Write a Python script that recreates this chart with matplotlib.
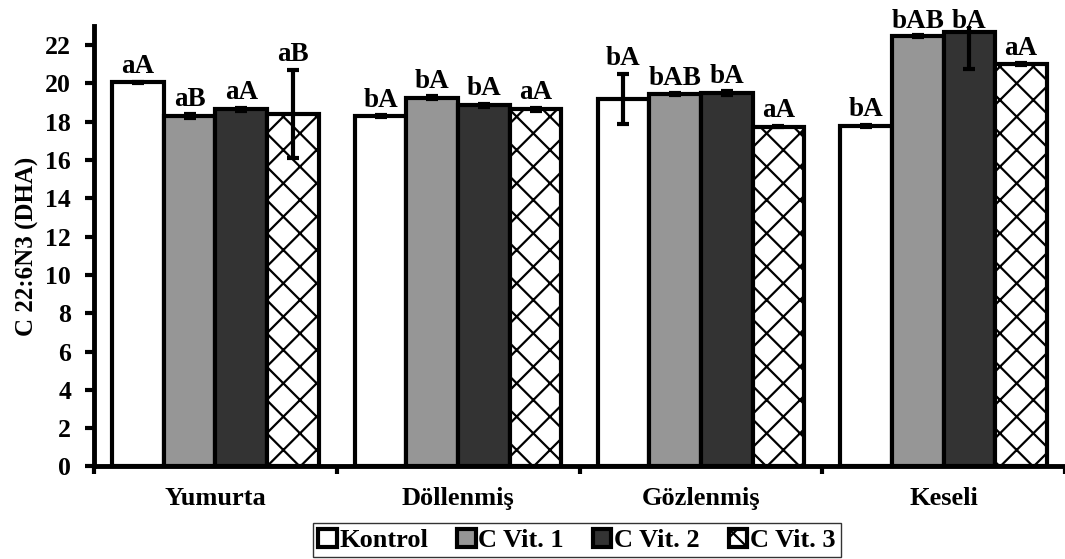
import matplotlib
matplotlib.use("Agg")
import matplotlib.pyplot as plt
import numpy as np

# Veri
groups = ['Yumurta', 'Döllenmiş', 'Gözlenmiş', 'Keseli']
series = ['Kontrol', 'C Vit. 1', 'C Vit. 2', 'C Vit. 3']

kontrol = [20.05, 18.3, 19.2, 17.8]
cvit1 = [18.3, 19.25, 19.45, 22.5]
cvit2 = [18.65, 18.85, 19.5, 22.7]
cvit3 = [18.4, 18.65, 17.75, 21.0]

kontrol_err = [0.03, 0.03, 1.3, 0.05]
cvit1_err = [0.08, 0.08, 0.03, 0.05]
cvit2_err = [0.08, 0.08, 0.08, 1.95]
cvit3_err = [2.3, 0.08, 0.05, 0.05]

kontrol_lbl = ['aA', 'bA', 'bA', 'bA']
cvit1_lbl = ['aB', 'bA', 'bAB', 'bAB']
cvit2_lbl = ['aA', 'bA', 'bA', 'bA']
cvit3_lbl = ['aB', 'aA', 'aA', 'aA']

values = [kontrol, cvit1, cvit2, cvit3]
errors = [kontrol_err, cvit1_err, cvit2_err, cvit3_err]
labels = [kontrol_lbl, cvit1_lbl, cvit2_lbl, cvit3_lbl]
colors = ['white', '#969696', '#333333', 'white']
hatches = [None, None, None, 'x']

plt.rcParams['font.family'] = ['Liberation Serif', 'DejaVu Serif']
plt.rcParams['font.weight'] = 'bold'
plt.rcParams['hatch.linewidth'] = 1.6

fig = plt.figure(figsize=(10.65, 5.59), dpi=100)
ax = fig.add_axes([0.0883, 0.1655, 0.9117, 0.788])

x = np.arange(len(groups))
w = 0.2128
ymax = 23

for i in range(4):
    pos = x + (i - 1.5) * w
    ax.bar(pos, values[i], w, color=colors[i], edgecolor='black', linewidth=3,
           hatch=hatches[i], label=series[i], zorder=2)
    ax.errorbar(pos, values[i], yerr=errors[i], fmt='none', ecolor='black',
                elinewidth=3, capsize=4, capthick=3, zorder=3)
    # harfler çubuk / hata çubuğu üstünde
    for j in range(len(groups)):
        top = min(values[i][j] + errors[i][j] + 0.45, ymax - 0.12)
        ax.text(pos[j], top, labels[i][j], ha='center', va='baseline',
                fontsize=19.5, fontweight='bold')

ax.set_xlim(-0.5, 3.5)
ax.set_ylim(0, ymax)
ax.set_yticks(np.arange(0, 23, 2))
ax.set_xticks(x)
ax.set_xticklabels(groups)
ax.set_xticks(np.arange(-0.5, 4, 1), minor=True)
ax.tick_params(axis='x', which='major', length=0, pad=15, labelsize=19)
ax.tick_params(axis='x', which='minor', length=6, width=3, direction='out')
ax.tick_params(axis='y', length=6.5, width=3, direction='out', labelsize=18.5, pad=10)
for lab in ax.get_xticklabels() + ax.get_yticklabels():
    lab.set_fontweight('bold')

ax.spines['top'].set_visible(False)
ax.spines['right'].set_visible(False)
ax.spines['left'].set_linewidth(3.5)
ax.spines['bottom'].set_linewidth(3.5)

ax.set_ylabel('C 22:6N3 (DHA)', fontsize=18, fontweight='bold')
ax.yaxis.set_label_coords(-0.057, 0.5)

leg = fig.legend(loc='center', bbox_to_anchor=(0.5416, 0.0335), ncol=4,
                 fontsize=19, frameon=True, fancybox=False, edgecolor='black',
                 handlelength=0.7, handleheight=0.7, handletextpad=0.1,
                 columnspacing=1.1, borderpad=0.2)
leg.get_frame().set_linewidth(1)
for h in leg.legend_handles:
    h.set_linewidth(3)
for t in leg.get_texts():
    t.set_fontweight('bold')

fig.savefig('out.png', dpi=100)
